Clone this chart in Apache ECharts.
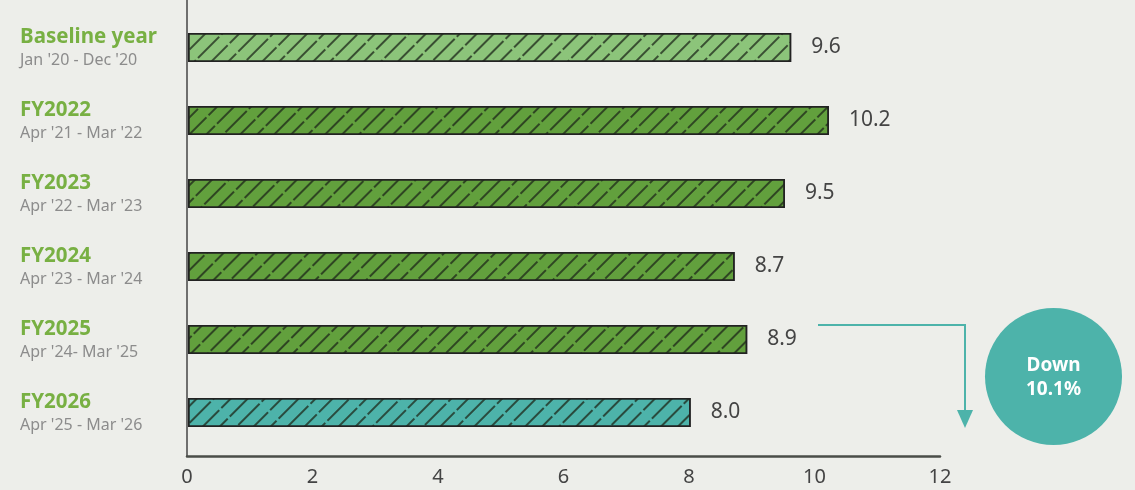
<!DOCTYPE html>
<html><head><meta charset="utf-8">
<script src="https://cdn.jsdelivr.net/npm/echarts@6/dist/echarts.min.js"></script>
<style>html,body{margin:0;padding:0;background:#edeeea;}#c{width:1135px;height:490px;}</style>
</head><body><div id="c"></div>
<script>
const titles = ['Baseline year','FY2022','FY2023','FY2024','FY2025','FY2026'];
const periods = ["Jan '20 - Dec '20","Apr '21 - Mar '22","Apr '22 - Mar '23","Apr '23 - Mar '24","Apr '24- Mar '25","Apr '25 - Mar '26"];
const values = [9.6, 10.2, 9.5, 8.7, 8.9, 8.0];
const barColors = ['#8cc47a','#62a03d','#62a03d','#62a03d','#62a03d','#4db3aa'];
const xTicks = [0,2,4,6,8,10,12];
const calloutText = ['Down','10.1%'];

const FONT = "'Noto Sans', sans-serif";
const chart = echarts.init(document.getElementById('c'), null, {renderer:'canvas'});
const cats = titles.map((t,i)=>i);
chart.setOption({
  backgroundColor:'#edeeea',
  animation:false,
  grid:[
    {left:188, top:11, width:754, height:438},
    {left:187, top:0, width:753, height:456}
  ],
  xAxis:[
    {gridIndex:0, type:'value', min:xTicks[0], max:xTicks[xTicks.length-1], interval:2, show:false},
    {gridIndex:1, type:'value', min:xTicks[0], max:xTicks[xTicks.length-1], interval:2,
     axisLine:{show:true, lineStyle:{color:'#4a4d48', width:2.5}},
     axisTick:{show:false}, splitLine:{show:false},
     axisLabel:{color:'#444', fontSize:20, fontFamily:FONT, margin:11}}
  ],
  yAxis:[
    {gridIndex:0, type:'category', data:cats, inverse:true,
     axisLine:{show:false}, axisTick:{show:false},
     axisLabel:{align:'left', margin:168,
       formatter:(v,i)=>'{t|'+titles[i]+'}\n{s|'+periods[i]+'}',
       rich:{t:{fontSize:20.5, fontWeight:'bold', color:'#78b043', fontFamily:FONT, lineHeight:26},
             s:{fontSize:16, color:'#8c8c8c', fontFamily:FONT, lineHeight:20}}}},
    {gridIndex:1, type:'value', min:0, max:1,
     axisLine:{show:true, lineStyle:{color:'#444', width:1.5}},
     axisTick:{show:false}, axisLabel:{show:false}, splitLine:{show:false}}
  ],
  series:[{
    type:'bar', xAxisIndex:0, yAxisIndex:0, barWidth:29,
    data: values.map((v,i)=>({value:v, itemStyle:{color:barColors[i]}})),
    itemStyle:{borderColor:'#222', borderWidth:1.5,
      decal:{symbol:'rect', symbolSize:1, color:'rgba(30,40,25,0.75)', dashArrayX:[[30,3]], dashArrayY:[1.1,9.1], rotation:-Math.PI/4}},
    label:{show:true, position:'right', distance:20, color:'#444', fontSize:21, fontFamily:FONT,
      formatter:p=>p.value.toFixed(1)}
  }],
  graphic:[
    {type:'polyline', shape:{points:[[818,325],[965,325],[965,412]]}, style:{stroke:'#4db3aa', lineWidth:2, fill:null}},
    {type:'polygon', shape:{points:[[957,410],[973,410],[965,428]]}, style:{fill:'#4db3aa'}},
    {type:'circle', shape:{cx:1053.5, cy:376.5, r:68.5}, style:{fill:'#4db3aa'}},
    {type:'text', x:1053.5, y:378, style:{text:calloutText.join('\n'), fill:'#fff', font:'bold 19px '+FONT, align:'center', verticalAlign:'middle', lineHeight:24}}
  ]
});
</script></body></html>
